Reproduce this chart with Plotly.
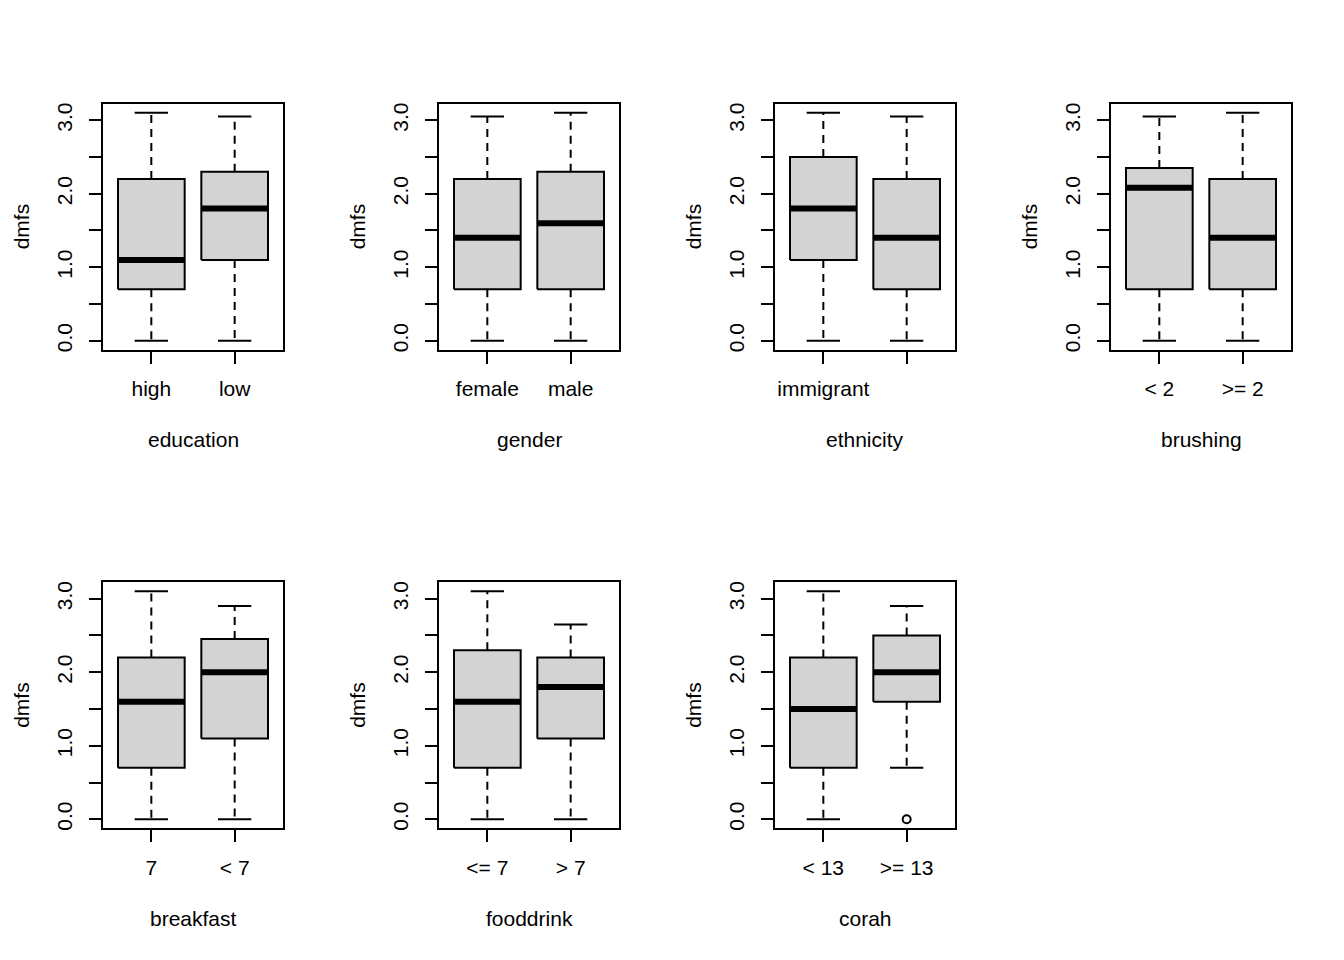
import plotly.graph_objects as go

# dmfs by each factor
factors = ["education", "gender", "ethnicity", "brushing", "breakfast", "fooddrink", "corah"]
group_labels = [
    ["high", "low"],
    ["female", "male"],
    ["immigrant", ""],          # R dropped the second label (overlap)
    ["< 2", ">= 2"],
    ["7", "< 7"],
    ["<= 7", "> 7"],
    ["< 13", ">= 13"],
]
lower_whisker = [[0, 0], [0, 0], [0, 0], [0, 0], [0, 0], [0, 0], [0, 0.7]]
q1 = [[0.7, 1.1], [0.7, 0.7], [1.1, 0.7], [0.7, 0.7], [0.7, 1.1], [0.7, 1.1], [0.7, 1.6]]
median = [[1.1, 1.8], [1.4, 1.6], [1.8, 1.4], [2.08, 1.4], [1.6, 2.0], [1.6, 1.8], [1.5, 2.0]]
q3 = [[2.2, 2.3], [2.2, 2.3], [2.5, 2.2], [2.35, 2.2], [2.2, 2.45], [2.3, 2.2], [2.2, 2.5]]
upper_whisker = [[3.1, 3.05], [3.05, 3.1], [3.1, 3.05], [3.05, 3.1], [3.1, 2.9], [3.1, 2.65], [3.1, 2.9]]
outliers = [[[], []], [[], []], [[], []], [[], []], [[], []], [[], []], [[], [0]]]

y_ticks = [0, 0.5, 1, 1.5, 2, 2.5, 3]
y_ticktext = ["0.0", "", "1.0", "", "2.0", "", "3.0"]

W, H = 1344, 960
OFF = 8            # page body margin pushes the plot down/right
COL_W, ROW_H = 336, 480
FONT = dict(family="Liberation Sans, Arial, sans-serif", size=21, color="black")
BOX_HALF = 0.4
CAP_HALF = 0.2

fig = go.Figure()
layout = dict(
    width=W, height=H, margin=dict(l=0, r=0, t=0, b=0),
    plot_bgcolor="white", paper_bgcolor="white", showlegend=False, font=FONT,
)
annotations = []


def px_x(p):
    return (p - OFF) / W


def px_y(p):
    return 1 - (p - OFF) / H


for i, name in enumerate(factors):
    row, col = divmod(i, 4)
    ax = "" if i == 0 else str(i + 1)
    x0 = col * COL_W + 103
    x1 = col * COL_W + 283
    top = row * ROW_H + 103
    bot = row * ROW_H + 350
    xdom = [px_x(x0), px_x(x1)]
    ydom = [px_y(bot), px_y(top)]

    bx, by, mx, my, wx, wy, cx, cy, ox, oy = [], [], [], [], [], [], [], [], [], []
    for j in range(2):
        x = j + 1
        bx += [x - BOX_HALF, x + BOX_HALF, x + BOX_HALF, x - BOX_HALF, x - BOX_HALF, None]
        by += [q1[i][j], q1[i][j], q3[i][j], q3[i][j], q1[i][j], None]
        mx += [x - BOX_HALF, x + BOX_HALF, None]
        my += [median[i][j], median[i][j], None]
        wx += [x, x, None, x, x, None]
        wy += [q3[i][j], upper_whisker[i][j], None, q1[i][j], lower_whisker[i][j], None]
        cx += [x - CAP_HALF, x + CAP_HALF, None, x - CAP_HALF, x + CAP_HALF, None]
        cy += [upper_whisker[i][j], upper_whisker[i][j], None,
               lower_whisker[i][j], lower_whisker[i][j], None]
        ox += [x] * len(outliers[i][j])
        oy += outliers[i][j]

    xa, ya = "x" + ax, "y" + ax
    fig.add_trace(go.Scatter(x=wx, y=wy, mode="lines", xaxis=xa, yaxis=ya, hoverinfo="skip",
                             line=dict(color="black", width=2, dash="8px,6px")))
    fig.add_trace(go.Scatter(x=cx, y=cy, mode="lines", xaxis=xa, yaxis=ya, hoverinfo="skip",
                             line=dict(color="black", width=2)))
    fig.add_trace(go.Scatter(x=bx, y=by, mode="lines", fill="toself", fillcolor="#D3D3D3",
                             xaxis=xa, yaxis=ya, line=dict(color="black", width=2)))
    fig.add_trace(go.Scatter(x=mx, y=my, mode="lines", xaxis=xa, yaxis=ya, hoverinfo="skip",
                             line=dict(color="black", width=6)))
    if ox:
        fig.add_trace(go.Scatter(x=ox, y=oy, mode="markers", xaxis=xa, yaxis=ya,
                                 marker=dict(symbol="circle-open", size=8, color="black",
                                             line=dict(width=2))))

    common = dict(showline=True, mirror=True, linecolor="black", linewidth=2,
                  ticks="outside", ticklen=12, tickwidth=2, tickcolor="black",
                  showgrid=False, zeroline=False, fixedrange=True, tickfont=FONT)
    layout["xaxis" + ax] = dict(domain=xdom, range=[0.42, 2.58], anchor=ya,
                                tickvals=[1, 2], ticktext=group_labels[i],
                                ticklabelstandoff=7, **common)
    layout["yaxis" + ax] = dict(domain=ydom, range=[-0.124, 3.224], anchor=xa,
                                tickvals=y_ticks, ticktext=y_ticktext, tickangle=-90,
                                ticklabelstandoff=9, **common)

    annotations.append(dict(text=name, xref="paper", yref="paper", showarrow=False,
                            x=(xdom[0] + xdom[1]) / 2, y=px_y(row * ROW_H + 440),
                            xanchor="center", yanchor="middle", font=FONT))
    # left-anchored so the rotated title stays inside the figure at the page edge
    annotations.append(dict(text="dmfs", xref="paper", yref="paper", showarrow=False,
                            x=col * COL_W / W, y=(ydom[0] + ydom[1]) / 2, textangle=-90,
                            xanchor="left", yanchor="middle", font=FONT))

layout["annotations"] = annotations
fig.update_layout(**layout)
fig.write_html("out.html")
